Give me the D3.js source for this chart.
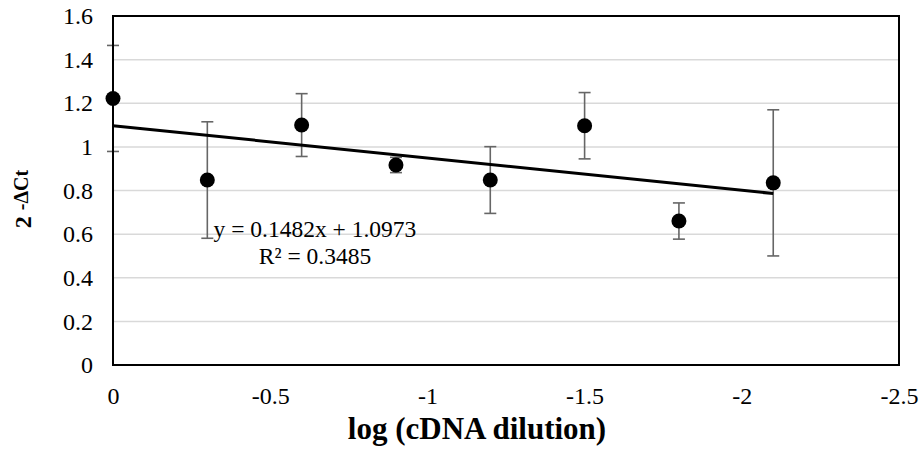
<!DOCTYPE html>
<html>
<head>
<meta charset="utf-8">
<script src="https://cdn.jsdelivr.net/npm/d3@7"></script>
<style>
  body { margin: 0; background: #fff; }
</style>
</head>
<body>
<div id="chart"></div>
<script>
// data
var dilution = [0, -0.3, -0.6, -0.9, -1.2, -1.5, -1.8, -2.1];
var expression = [1.222, 0.848, 1.1, 0.917, 0.848, 1.097, 0.66, 0.835];
var errors = [0.243, 0.267, 0.144, 0.035, 0.153, 0.152, 0.083, 0.335];
var slope = 0.1482, intercept = 1.0973, rSquared = 0.3485;
var xTicks = [0, -0.5, -1, -1.5, -2, -2.5];
var yTicks = [0, 0.2, 0.4, 0.6, 0.8, 1, 1.2, 1.4, 1.6];

var serif = "'Liberation Serif', 'Times New Roman', Times, 'DejaVu Serif', serif";

var margin = {top: 16, right: 24, bottom: 93, left: 113},
    width = 923 - margin.left - margin.right,
    height = 458 - margin.top - margin.bottom;

var svg = d3.select("#chart")
  .append("svg")
    .attr("width", 923)
    .attr("height", 458)
    .style("font-family", serif)
  .append("g")
    .attr("transform", "translate(" + margin.left + "," + margin.top + ")");

var x = d3.scaleLinear()
  .domain([0, -2.5])
  .range([0, width]);

var y = d3.scaleLinear()
  .domain([0, 1.6])
  .range([height, 0]);

// gridlines
svg.append("g")
  .selectAll("line")
  .data(yTicks.slice(1, -1))
  .enter()
  .append("line")
    .attr("x1", 0)
    .attr("x2", width)
    .attr("y1", function(d) { return y(d); })
    .attr("y2", function(d) { return y(d); })
    .attr("stroke", "#d9d9d9")
    .attr("stroke-width", 1.5);

// axes (labels only, no tick marks)
var xAxis = svg.append("g")
  .attr("transform", "translate(0," + height + ")")
  .call(d3.axisBottom(x).tickValues(xTicks).tickSize(0).tickPadding(22)
    .tickFormat(function(d) { return String(d); }));
xAxis.select(".domain").remove();
xAxis.selectAll("text")
  .style("font-size", "24px")
  .style("font-family", serif)
  .attr("fill", "#000");

var yAxis = svg.append("g")
  .call(d3.axisLeft(y).tickValues(yTicks).tickSize(0).tickPadding(20)
    .tickFormat(function(d) { return String(d); }));
yAxis.select(".domain").remove();
yAxis.selectAll("text")
  .style("font-size", "24px")
  .style("font-family", serif)
  .attr("fill", "#000");

// plot border
svg.append("rect")
  .attr("x", 0)
  .attr("y", 0)
  .attr("width", width)
  .attr("height", height)
  .attr("fill", "none")
  .attr("stroke", "#000")
  .attr("stroke-width", 2);

var points = dilution.map(function(d, i) {
  return {x: d, y: expression[i], e: errors[i]};
});

// error bars
var bars = svg.append("g")
  .selectAll("g")
  .data(points)
  .enter()
  .append("g")
    .attr("stroke", "#666")
    .attr("stroke-width", 1.6);

bars.append("line")
  .attr("x1", function(d) { return x(d.x); })
  .attr("x2", function(d) { return x(d.x); })
  .attr("y1", function(d) { return y(d.y + d.e); })
  .attr("y2", function(d) { return y(d.y - d.e); });
bars.append("line")
  .attr("x1", function(d) { return x(d.x) - 6; })
  .attr("x2", function(d) { return x(d.x) + 6; })
  .attr("y1", function(d) { return y(d.y + d.e); })
  .attr("y2", function(d) { return y(d.y + d.e); });
bars.append("line")
  .attr("x1", function(d) { return x(d.x) - 6; })
  .attr("x2", function(d) { return x(d.x) + 6; })
  .attr("y1", function(d) { return y(d.y - d.e); })
  .attr("y2", function(d) { return y(d.y - d.e); });

// left axis line drawn over error caps at x = 0
svg.append("line")
  .attr("x1", 0).attr("x2", 0)
  .attr("y1", 0).attr("y2", height)
  .attr("stroke", "#000")
  .attr("stroke-width", 2);

// trendline
var xExtent = d3.extent(dilution);
svg.append("path")
  .datum(xExtent)
  .attr("fill", "none")
  .attr("stroke", "#000")
  .attr("stroke-width", 3)
  .attr("d", d3.line()
    .x(function(d) { return x(d); })
    .y(function(d) { return y(slope * d + intercept); }));

// dots
svg.append("g")
  .selectAll("circle")
  .data(points)
  .enter()
  .append("circle")
    .attr("cx", function(d) { return x(d.x); })
    .attr("cy", function(d) { return y(d.y); })
    .attr("r", 7.5)
    .attr("fill", "#000");

// equation
svg.append("text")
  .attr("x", 202)
  .attr("y", 221)
  .attr("text-anchor", "middle")
  .style("font-size", "23.5px")
  .text("y = " + slope + "x + " + intercept);
svg.append("text")
  .attr("x", 202)
  .attr("y", 248)
  .attr("text-anchor", "middle")
  .style("font-size", "23.5px")
  .text("R\u00B2 = " + rSquared);

// axis titles
svg.append("text")
  .attr("x", 364)
  .attr("y", 423)
  .attr("text-anchor", "middle")
  .style("font-size", "31px")
  .style("font-weight", "bold")
  .text("log (cDNA dilution)");

var yTitle = svg.append("text")
  .attr("transform", "translate(" + (-82) + "," + 183 + ") rotate(-90)")
  .attr("text-anchor", "middle")
  .style("font-weight", "bold");
yTitle.append("tspan").style("font-size", "24px").text("2 ");
yTitle.append("tspan").style("font-size", "20px").attr("dy", -3).text("-\u0394Ct");
</script>
</body>
</html>
